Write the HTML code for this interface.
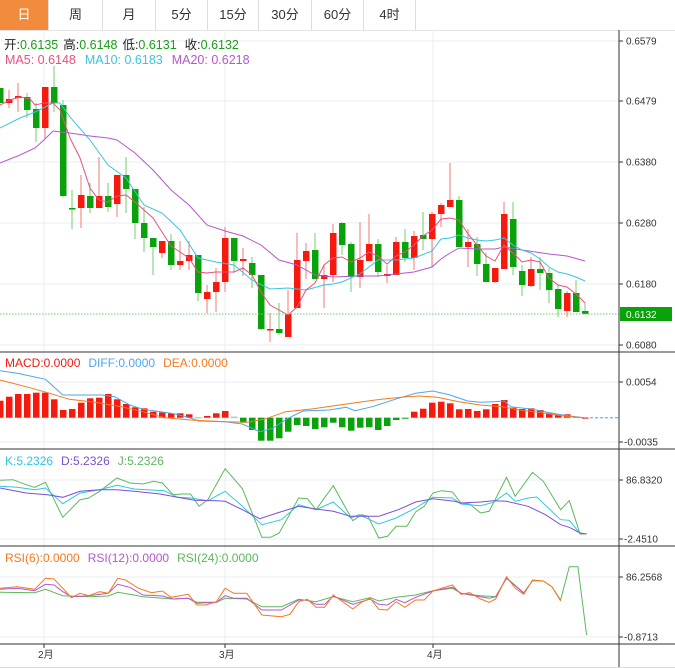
<!DOCTYPE html>
<html><head><meta charset="utf-8"><style>
html,body{margin:0;padding:0;background:#fff;width:675px;height:668px;overflow:hidden;font-family:"Liberation Sans","Noto Sans CJK SC",sans-serif}
.tabs{position:absolute;left:0;top:0;height:30px;width:675px;border-bottom:1px solid #e3e3e3}
.tab{position:absolute;top:0;height:30px;line-height:30px;text-align:center;font-size:13px;color:#333;border-right:1px solid #ddd;box-sizing:border-box}
svg{position:absolute;left:0;top:0}
</style></head><body>
<div class="tabs">
<div class="tab" style="left:0;width:49px;background:#f28c3c;color:#fff">日</div>
<div class="tab" style="left:49px;width:54px">周</div>
<div class="tab" style="left:103px;width:53px">月</div>
<div class="tab" style="left:156px;width:52px">5分</div>
<div class="tab" style="left:208px;width:51px">15分</div>
<div class="tab" style="left:259px;width:53px">30分</div>
<div class="tab" style="left:312px;width:52px">60分</div>
<div class="tab" style="left:364px;width:52px">4时</div>
</div>
<svg id="s" width="675" height="668" xmlns="http://www.w3.org/2000/svg" style="top:0"></svg>
<script>
var s=document.getElementById('s'),h='';
function L(x1,y1,x2,y2,c,w,extra){h+='<line x1="'+x1+'" y1="'+y1+'" x2="'+x2+'" y2="'+y2+'" stroke="'+c+'" stroke-width="'+(w||1)+'" '+(extra||'')+'/>';}
function T(x,y,t,c,fs){h+='<text x="'+x+'" y="'+y+'" fill="'+c+'" font-size="'+fs+'">'+t+'</text>';}
function P(pts,c,sx,sy,base){var d=pts.map(function(p){return (p[0]*sx).toFixed(1)+','+(base+p[1]*sy).toFixed(1)}).join(' ');h+='<polyline points="'+d+'" fill="none" stroke="'+c+'" stroke-width="1"/>';}
var G='#e8eef3';
// grid
[41,101,162,223,284,345,382,418,442,480,539,577,637].forEach(function(y){L(0,y,619,y,G)});
[44,225,433].forEach(function(x){L(x,30,x,644,G)});
// candles [x, open?, bodyTop, bodyBot, wickTop, wickBot, red?]
var C=[[88,103,88,103,0],[99,103,90,108,1],[96,98,83,112,1],[97,110,93,118,0],[109,128,103,142,0],[87,128,87,139,1],[87,103,66,112,0],[105,196,100,197,0],[208,209,190,229,0],[195,208,175,228,1],[196,208,183,213,0],[196,208,157,208,1],[196,207,183,212,0],[175,204,175,217,1],[175,189,157,213,0],[189,223,189,239,0],[223,238,207,252,0],[238,247,238,275,0],[241,253,241,258,1],[241,265,234,270,0],[261,265,241,270,1],[255,261,241,270,1],[255,293,255,301,0],[292,299,285,313,1],[282,292,268,312,1],[238,282,227,292,1],[238,261,238,273,0],[259,261,248,276,1],[263,275,257,288,0],[275,329,275,330,0],[329,330,313,342,1],[329,333,303,335,0],[314,337,290,337,1],[260,308,233,308,1],[251,261,243,279,1],[250,279,233,279,0],[275,279,266,308,1],[233,275,224,282,1],[223,245,222,255,0],[244,277,242,292,0],[260,277,222,288,1],[244,261,214,261,1],[244,272,239,277,0],[274,276,265,283,1],[242,275,237,275,1],[242,258,229,262,0],[236,258,231,270,1],[235,239,212,250,0],[214,239,212,267,1],[205,214,203,227,1],[200,207,163,207,1],[200,247,196,247,0],[242,247,229,267,1],[244,264,237,276,0],[264,282,253,282,0],[268,282,268,283,1],[214,269,202,269,1],[219,267,202,275,0],[271,285,265,296,0],[269,286,257,287,1],[269,273,257,290,0],[273,290,268,303,0],[289,309,285,317,0],[293,311,291,317,1],[293,312,280,312,0],[311,314,303,314,0]];
C.forEach(function(c,i){var x=9*i,col=c[4]?'#f5190e':'#0aa20a',wc=c[4]?'#f57a72':'#6fcf6f';
L(x,c[2],x,c[3],wc);h+='<rect x="'+(x-3)+'" y="'+c[0]+'" width="6.5" height="'+Math.max(1.5,c[1]-c[0])+'" fill="'+col+'"/>';});
var MA5=[[0,105],[10,100],[20,97],[30,99],[35,105],[44,103],[53,103],[60,110],[70,138],[80,158],[90,188],[99,200],[108,202],[117,196],[126,195],[135,202],[144,210],[153,218],[162,232],[171,246],[180,252],[189,258],[198,272],[207,273],[216,272],[225,272],[234,272],[243,268],[252,275],[261,292],[270,305],[279,310],[288,315],[297,307],[306,290],[315,283],[324,265],[333,258],[342,257],[351,262],[360,258],[369,252],[378,256],[387,264],[396,256],[405,252],[414,245],[423,236],[432,230],[441,219],[450,218],[459,220],[468,234],[477,245],[486,256],[495,261],[504,245],[513,253],[522,262],[531,260],[540,262],[549,278],[558,285],[567,287],[576,294],[585,303]];
var MA10=[[0,128],[20,118],[35,112],[53,103],[60,103],[70,117],[90,140],[108,165],[126,178],[144,205],[162,213],[180,230],[198,258],[216,262],[234,265],[252,280],[270,289],[288,288],[306,290],[324,285],[333,284],[342,282],[360,274],[378,260],[396,260],[414,258],[432,251],[441,239],[450,238],[459,235],[468,238],[477,240],[486,241],[495,240],[504,238],[513,245],[522,250],[531,253],[540,259],[549,267],[558,272],[567,274],[576,277],[585,281]];
var MA20=[[0,163],[20,155],[35,148],[44,140],[53,131],[70,133],[90,136],[108,138],[117,140],[135,153],[153,170],[171,190],[189,205],[207,225],[225,231],[243,236],[261,245],[279,260],[297,265],[315,275],[333,277],[360,276],[378,276],[396,274],[414,272],[432,267],[441,259],[450,253],[459,248],[477,249],[495,249],[504,247],[522,250],[549,254],[567,256],[585,261]];
P(MA20,'#b656cf',1,1,0);P(MA10,'#3cc4dc',1,1,0);P(MA5,'#ec4f7e',1,1,0);
L(0,314,619,314,'#6fcf6f',1,'stroke-dasharray="1.5,1.5"');
h+='<rect x="620" y="307" width="52" height="14" fill="#0aa20a"/>';T(626,318,'0.6132','#fff',10);
// MACD
var mv=[152,140,132,132,128,128,148,180,177,158,145,143,132,148,162,172,175,185,187,190,190,193,202,198,190,183,200,218,240,272,272,265,245,225,228,237,232,218,232,242,233,232,240,228,210,206,185,176,158,155,160,178,177,183,178,162,150,173,177,175,180,190,195,193,200,203];
mv.forEach(function(v,i){var x=9*i,y=350+v/3,z=417.7;var red=(i<27&&i!=22)||i>=46;var col=red?'#f5190e':'#0aa20a';if(i==22||i==26)col='#7fd07f';
var t=Math.min(y,z),hh=Math.abs(y-z);if(hh<1)hh=1;h+='<rect x="'+(x-3)+'" y="'+t.toFixed(1)+'" width="6.5" height="'+hh.toFixed(1)+'" fill="'+col+'"/>';});
var sx=1/2.31;
P([[0,62],[40,70],[105,88],[145,135],[235,135],[265,140],[300,165],[330,178],[395,190],[430,200],[460,213],[520,215],[560,222],[600,245],[630,235],[665,205],[700,183],[760,180],[800,172],[820,182],[860,170],[920,145],[960,130],[1000,123],[1040,135],[1080,153],[1110,157],[1140,155],[1165,153],[1180,170],[1230,178],[1270,188],[1300,195],[1330,200],[1350,203]],'#4da6ee',sx,1/3,350);
P([[0,90],[60,110],[110,128],[160,148],[220,157],[280,170],[330,185],[380,203],[440,210],[520,215],[570,217],[610,208],[660,185],[720,177],[800,162],[880,148],[940,140],[970,138],[1010,142],[1060,155],[1110,165],[1160,170],[1200,180],[1260,190],[1300,198],[1350,203]],'#f47920',sx,1/3,350);
L(585,417.7,619,417.7,'#4da6ee',1,'stroke-dasharray="3,2"');
// KDJ
P([[0,97],[30,95],[60,110],[80,118],[105,103],[145,208],[185,155],[205,150],[230,130],[270,90],[300,105],[330,108],[355,100],[375,105],[400,140],[420,138],[440,138],[460,175],[480,155],[520,62],[560,122],[605,268],[625,268],[645,255],[690,150],[710,152],[730,185],[770,113],[815,218],[835,200],[850,205],[875,270],[895,265],[915,235],[940,235],[960,192],[980,175],[1000,135],[1020,128],[1045,132],[1065,165],[1085,168],[1110,195],[1130,190],[1170,88],[1190,145],[1230,73],[1255,100],[1295,185],[1315,158],[1340,258],[1355,258]],'#5cb85c',sx,1/3,448);
P([[0,115],[40,118],[80,125],[105,120],[145,167],[185,135],[230,125],[270,112],[310,123],[380,128],[410,148],[440,150],[480,158],[520,130],[560,175],[605,230],[650,215],[690,170],[730,185],[770,162],[810,210],[830,200],[875,228],[915,210],[960,180],[1000,148],[1045,150],[1065,168],[1110,173],[1140,163],[1170,135],[1190,160],[1220,150],[1240,147],[1295,215],[1315,217],[1340,257]],'#2ec8e0',sx,1/3,448);
P([[0,120],[60,135],[110,140],[145,148],[185,130],[230,125],[270,125],[310,130],[370,138],[410,148],[450,157],[500,158],[520,160],[560,185],[600,212],[640,195],[690,175],[730,183],[770,190],[810,205],[875,205],[920,185],[960,162],[1000,152],[1050,160],[1065,165],[1110,162],[1140,158],[1170,160],[1220,175],[1260,200],[1295,230],[1315,238],[1340,255],[1355,258]],'#7b4fd6',sx,1/3,448);
// RSI
P([[0,142],[80,143],[105,133],[145,152],[205,155],[250,153],[272,142],[300,148],[330,155],[400,162],[435,160],[455,172],[500,172],[520,160],[570,162],[605,185],[650,185],[690,163],[730,170],[770,155],[815,170],[855,158],[875,168],[915,157],[960,150],[1000,137],[1045,130],[1065,145],[1110,152],[1145,155],[1170,98],[1210,143],[1230,107],[1255,108],[1275,125],[1295,165],[1315,65],[1335,65],[1355,270]],'#5cb85c',sx,1/3,545);
P([[0,133],[40,130],[80,137],[105,118],[125,120],[145,140],[165,155],[205,152],[250,145],[272,118],[300,127],[330,150],[375,153],[400,162],[435,160],[455,175],[500,172],[520,152],[540,160],[570,160],[605,195],[650,195],[690,165],[710,165],[730,178],[750,178],[770,153],[815,178],[855,162],[875,178],[895,180],[915,163],[935,173],[960,157],[1000,138],[1045,127],[1065,145],[1110,155],[1130,160],[1145,155],[1170,100],[1210,145],[1230,106]],'#b656cf',sx,1/3,545);
P([[0,130],[40,125],[80,133],[105,100],[125,102],[145,130],[165,158],[185,145],[205,152],[230,140],[250,145],[272,100],[290,105],[320,130],[350,143],[375,138],[395,157],[435,148],[455,180],[475,180],[500,170],[520,130],[540,145],[570,145],[605,210],[650,215],[670,208],[690,170],[710,163],[730,187],[750,187],[770,150],[815,192],[835,172],[855,160],[875,193],[895,195],[915,170],[935,187],[960,165],[980,165],[1000,138],[1045,120],[1065,148],[1085,143],[1110,162],[1130,172],[1145,162],[1170,95],[1190,130],[1210,148],[1230,105],[1255,108],[1275,125],[1295,168]],'#f47920',sx,1/3,545);
// frame
L(619,30,619,668,'#333');
[352,449,546,644].forEach(function(y){L(0,y,675,y,'#333')});
L(0,667.5,675,667.5,'#ddd');
// axis labels
[[41,'0.6579'],[101,'0.6479'],[162,'0.6380'],[223,'0.6280'],[284,'0.6180'],[345,'0.6080'],[382,'0.0054'],[442,'-0.0035'],[480,'86.8320'],[539,'-2.4510'],[577,'86.2568'],[637,'-0.8713']].forEach(function(a){L(619,a[0],623,a[0],'#333');T(a[1].charAt(0)=='-'?624:626,a[0]+3.5,a[1],'#333',10);});
[[44,'2月'],[225,'3月'],[433,'4月']].forEach(function(a){L(a[0],644,a[0],648,'#333');T(a[0]-6,658,a[1],'#333',10);});
// legends
h+='<text y="49" font-size="12.5"><tspan x="4" fill="#222">开:</tspan><tspan fill="#1a9e1a">0.6135</tspan><tspan fill="#222" dx="5">高:</tspan><tspan fill="#1a9e1a">0.6148</tspan><tspan fill="#222" dx="5">低:</tspan><tspan fill="#1a9e1a">0.6131</tspan><tspan fill="#222" dx="8">收:</tspan><tspan fill="#1a9e1a">0.6132</tspan></text>';
h+='<text y="64" font-size="12.5"><tspan x="5" fill="#ec4f7e">MA5: 0.6148</tspan><tspan dx="9" fill="#3cc4dc">MA10: 0.6183</tspan><tspan dx="9" fill="#b656cf">MA20: 0.6218</tspan></text>';
h+='<text y="367" font-size="12"><tspan x="5" fill="#f5190e">MACD:0.0000</tspan><tspan dx="8" fill="#4da6ee">DIFF:0.0000</tspan><tspan dx="8" fill="#f47920">DEA:0.0000</tspan></text>';
h+='<text y="465" font-size="12"><tspan x="5" fill="#2ec8e0">K:5.2326</tspan><tspan dx="8" fill="#7b4fd6">D:5.2326</tspan><tspan dx="8" fill="#5cb85c">J:5.2326</tspan></text>';
h+='<text y="562" font-size="12"><tspan x="5" fill="#f47920">RSI(6):0.0000</tspan><tspan dx="8" fill="#b656cf">RSI(12):0.0000</tspan><tspan dx="8" fill="#5cb85c">RSI(24):0.0000</tspan></text>';
s.innerHTML=h;
</script>
</body></html>
